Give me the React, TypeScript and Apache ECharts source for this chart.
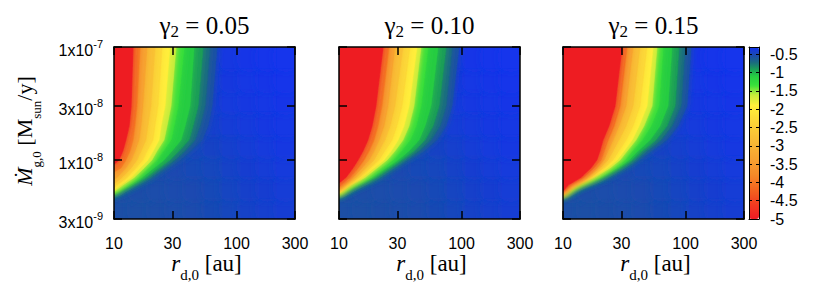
import React, { useEffect, useRef } from 'react';
import * as echarts from 'echarts';

// ---------------- data ----------------
const GAMMA2 = ['0.05', '0.10', '0.15'];
const X_TICKS = [10, 30, 100, 300]; // r_d,0 [au]
const Y_TICKS = [3e-9, 1e-8, 3e-8, 1e-7]; // Mdot_g,0 [Msun/y]
const CB_MIN = -5;
const CB_MAX = -0.3;
const CB_STEP = 0.5;

// contour levels of the plotted quantity (outermost first)
const LEVELS = [-0.5, -0.62, -0.8, -1.0, -1.2, -1.45, -1.75, -2.1, -2.5, -3.0, -3.6, -4.3];
// Mdot rows at which the contour positions r_d,0 were read
const MDOT_ROWS = [1e-7, 3e-8, 2e-8, 1.5e-8, 1.2e-8, 1e-8, 8.5e-9, 7e-9, 6e-9];

// gamma2 = 0.05 : r_d,0 of each contour on each row (null: contour already met r = 10 au)
const RD_G005 = [
  [69.3, 63.1, 58.5, 52.3, 42.5, 34.6, 27.1, 21.2, 16.0],
  [60.7, 55.3, 50.3, 45.8, 38.0, 31.5, 25.1, 19.7, 14.8],
  [53.3, 48.5, 44.1, 40.9, 33.9, 28.6, 23.3, 18.2, 14.0],
  [45.0, 41.7, 38.0, 35.2, 29.7, 25.6, 21.2, 16.9, 13.3],
  [37.3, 33.3, 30.9, 29.2, 25.1, 22.4, 18.9, 15.7, 12.5],
  [32.1, 29.2, 27.1, 25.6, 22.4, 20.4, 17.6, 14.6, 11.8],
  [28.6, 26.1, 24.2, 23.3, 20.8, 18.9, 16.3, 13.8, 11.2],
  [24.7, 22.9, 21.6, 20.8, 18.6, 17.2, 15.1, 12.8, 10.6],
  [21.6, 20.0, 18.9, 18.2, 16.6, 15.4, 13.8, 11.6, null],
  [18.6, 17.2, 16.6, 16.0, 14.8, 13.8, 12.5, 10.6, null],
  [16.3, 15.4, 14.8, 14.3, 13.5, 12.5, 11.4, null, null],
  [14.3, 13.8, 13.3, 12.5, 11.8, 11.0, null, null, null],
];
// Mdot where each contour meets the r = 10 au edge
const EDGE_G005 = [4.82e-9, 4.89e-9, 4.96e-9, 5.04e-9, 5.15e-9, 5.25e-9, 5.42e-9, 5.7e-9, 6.12e-9, 6.78e-9, 7.82e-9, 9.1e-9];

// gamma2 = 0.10
const RD_G010 = [
  [95.3, 83.6, 74.7, 63.1, 49.4, 36.6, 28.6, 22.0, 15.7],
  [83.6, 74.7, 66.7, 56.3, 45.0, 33.9, 27.1, 20.8, 14.8],
  [74.7, 65.5, 58.5, 50.3, 40.9, 32.1, 25.6, 19.7, 14.3],
  [64.3, 56.3, 50.3, 45.0, 37.3, 30.3, 24.2, 18.6, 13.8],
  [53.3, 46.7, 42.5, 38.0, 32.1, 27.6, 22.0, 17.2, 13.1],
  [46.7, 40.9, 37.3, 33.3, 28.6, 24.7, 20.4, 16.3, 12.5],
  [43.3, 37.3, 33.9, 30.3, 26.6, 23.3, 19.3, 15.4, 12.1],
  [38.0, 32.7, 29.7, 27.1, 23.7, 21.2, 17.9, 14.6, 11.6],
  [33.3, 28.6, 26.1, 23.7, 21.2, 19.3, 16.6, 13.8, 11.2],
  [28.6, 25.1, 23.3, 21.2, 19.3, 17.6, 15.4, 13.0, 10.8],
  [25.6, 22.4, 20.8, 19.3, 17.6, 16.0, 14.3, 12.3, 10.4],
  [22.9, 20.0, 18.6, 17.2, 15.7, 14.3, 13.0, 11.4, null],
];
const EDGE_G010 = [4.81e-9, 4.85e-9, 4.89e-9, 4.94e-9, 4.99e-9, 5.04e-9, 5.09e-9, 5.18e-9, 5.28e-9, 5.45e-9, 5.7e-9, 6.25e-9];

// gamma2 = 0.15
const RD_G015 = [
  [110.8, 102.7, 86.8, 70.6, 52.3, 41.7, 32.1, 22.9, 15.4],
  [99.0, 91.8, 77.5, 63.1, 47.6, 38.7, 30.3, 21.6, 14.8],
  [88.4, 82.0, 70.6, 57.4, 44.1, 36.6, 28.6, 20.8, 14.4],
  [77.5, 71.9, 61.9, 51.3, 40.9, 34.6, 27.6, 20.0, 14.0],
  [65.5, 60.7, 52.3, 44.1, 36.6, 32.1, 25.6, 18.9, 13.5],
  [58.5, 53.3, 45.8, 39.4, 33.3, 29.2, 24.2, 17.9, 13.0],
  [54.3, 48.5, 41.7, 36.6, 31.5, 27.6, 22.9, 17.2, 12.6],
  [48.5, 42.5, 37.3, 32.7, 28.6, 25.6, 21.6, 16.6, 12.3],
  [42.5, 37.3, 32.7, 28.6, 25.6, 23.3, 20.0, 15.7, 11.8],
  [37.3, 32.7, 28.6, 25.6, 23.3, 21.6, 18.9, 15.1, 11.5],
  [33.3, 29.2, 26.1, 23.3, 21.6, 20.4, 17.9, 14.6, 11.2],
  [30.3, 26.6, 23.7, 21.2, 20.0, 18.9, 16.9, 14.0, 11.0],
];
const EDGE_G015 = [4.76e-9, 4.8e-9, 4.83e-9, 4.86e-9, 4.89e-9, 4.92e-9, 4.95e-9, 4.99e-9, 5.03e-9, 5.09e-9, 5.17e-9, 5.27e-9];

// background (blue) field, coarse cells: r edges, Mdot edges, values (rows bottom -> top)
const BG_R_EDGES = [10, 14, 20, 28, 39, 55, 77, 108, 152, 213, 300];
const BG_M_EDGES = [3e-9, 4.6e-9, 7.2e-9, 1.1e-8, 1.7e-8, 2.7e-8, 4.2e-8, 6.5e-8, 1e-7];
const BG_VALUES = [
  [-0.56, -0.56, -0.55, -0.54, -0.53, -0.51, -0.48, -0.45, -0.43, -0.41],
  [-0.56, -0.55, -0.54, -0.53, -0.52, -0.5, -0.47, -0.44, -0.42, -0.4],
  [-0.55, -0.54, -0.53, -0.52, -0.5, -0.48, -0.45, -0.42, -0.4, -0.38],
  [-0.55, -0.54, -0.52, -0.5, -0.48, -0.46, -0.43, -0.4, -0.38, -0.36],
  [-0.55, -0.53, -0.51, -0.49, -0.46, -0.43, -0.4, -0.38, -0.36, -0.35],
  [-0.55, -0.53, -0.5, -0.47, -0.44, -0.41, -0.38, -0.36, -0.35, -0.34],
  [-0.55, -0.52, -0.49, -0.46, -0.43, -0.4, -0.37, -0.35, -0.34, -0.33],
  [-0.55, -0.52, -0.49, -0.46, -0.42, -0.39, -0.36, -0.34, -0.33, -0.32],
];

// ---------------- styling ----------------
const SANS = '"Liberation Sans", Arial, Helvetica, sans-serif';
const SERIF = '"Liberation Serif", "Times New Roman", serif';
const PANEL_LEFT = [114, 339, 563];
const PANEL_TOP = 47;
const PANEL_W = 181;
const PANEL_H = 172;

const PALETTE: [number, string][] = [
  [-5.0, '#ee1b24'],
  [-4.6, '#f03c20'],
  [-4.2, '#f3641f'],
  [-3.8, '#f58a28'],
  [-3.4, '#f7a030'],
  [-3.0, '#f8b434'],
  [-2.6, '#fac836'],
  [-2.2, '#fcdf38'],
  [-1.9, '#fff03a'],
  [-1.6, '#c4ec3a'],
  [-1.35, '#38e03a'],
  [-1.1, '#26cc42'],
  [-0.9, '#1a9c58'],
  [-0.72, '#1a6a80'],
  [-0.55, '#1b4ea8'],
  [-0.42, '#173ed0'],
  [-0.3, '#1232f2'],
];

function hexToRgb(h: string) {
  return [parseInt(h.slice(1, 3), 16), parseInt(h.slice(3, 5), 16), parseInt(h.slice(5, 7), 16)];
}
function paletteAt(v: number) {
  if (v <= PALETTE[0][0]) return PALETTE[0][1];
  for (let i = 1; i < PALETTE.length; i++) {
    if (v <= PALETTE[i][0]) {
      const [v0, c0] = PALETTE[i - 1];
      const [v1, c1] = PALETTE[i];
      const t = (v - v0) / (v1 - v0);
      const a = hexToRgb(c0);
      const b = hexToRgb(c1);
      return 'rgb(' + a.map((x, k) => Math.round(x + (b[k] - x) * t)).join(',') + ')';
    }
  }
  return PALETTE[PALETTE.length - 1][1];
}
const CB_COLORS = Array.from({ length: 95 }, (_, k) => paletteAt(CB_MIN + ((CB_MAX - CB_MIN) * k) / 94));

const LX_MIN = Math.log10(X_TICKS[0]);
const LX_MAX = Math.log10(X_TICKS[X_TICKS.length - 1]);
const LY_MIN = Math.log10(Y_TICKS[0]);
const LY_MAX = Math.log10(Y_TICKS[Y_TICKS.length - 1]);

function buildPolys(table: (number | null)[][], edges: number[]) {
  return table.map((row, i) => {
    const pts: number[][] = [];
    const top = Math.log10(row[0] as number);
    pts.push([LX_MIN - 0.3, LY_MAX + 0.3]);
    pts.push([top, LY_MAX + 0.3]);
    row.forEach((r, j) => {
      if (r != null) pts.push([Math.log10(r), Math.log10(MDOT_ROWS[j])]);
    });
    const le = Math.log10(edges[i]);
    pts.push([LX_MIN, le]);
    pts.push([LX_MIN - 0.3, le]);
    return pts;
  });
}
function buildContourData(table: (number | null)[][]) {
  return table.map((row, i) => {
    const fill = i < LEVELS.length - 1 ? (LEVELS[i] + LEVELS[i + 1]) / 2 : CB_MIN;
    const lx = Math.log10(row[0] as number);
    return [lx, LY_MAX, lx, LY_MAX, fill];
  });
}
function buildBgData() {
  const out: number[][] = [];
  BG_VALUES.forEach((row, i) => {
    row.forEach((v, j) => {
      out.push([
        Math.log10(BG_R_EDGES[j]),
        Math.log10(BG_M_EDGES[i]),
        Math.log10(BG_R_EDGES[j + 1]),
        Math.log10(BG_M_EDGES[i + 1]),
        v,
      ]);
    });
  });
  return out;
}

function buildOption() {
  const tables = [RD_G005, RD_G010, RD_G015];
  const edges = [EDGE_G005, EDGE_G010, EDGE_G015];
  const grid: any[] = PANEL_LEFT.map((l) => ({ left: l, top: PANEL_TOP, width: PANEL_W, height: PANEL_H, show: false }));
  grid.push({ left: 749, top: PANEL_TOP, width: 10, height: PANEL_H, show: false });

  const xTicks = X_TICKS.map((v) => Math.log10(v));
  const yTicks = Y_TICKS.map((v) => Math.log10(v));
  const lineStyle = { color: '#000', width: 1.5 };

  const xAxis: any[] = [];
  const yAxis: any[] = [];
  PANEL_LEFT.forEach((_, g) => {
    ['bottom', 'top'].forEach((pos) => {
      xAxis.push({
        type: 'value',
        gridIndex: g,
        position: pos,
        min: LX_MIN,
        max: LX_MAX,
        z: 10,
        axisLine: { show: true, onZero: false, lineStyle },
        axisTick: { show: true, inside: true, length: 8, customValues: xTicks, lineStyle },
        axisLabel: {
          show: pos === 'bottom',
          customValues: xTicks,
          formatter: (v: number) => String(Math.round(Math.pow(10, v))),
          margin: 16,
          fontSize: 16,
          fontFamily: SANS,
          color: '#000',
        },
        splitLine: { show: false },
      });
    });
    ['left', 'right'].forEach((pos) => {
      yAxis.push({
        type: 'value',
        gridIndex: g,
        position: pos,
        min: LY_MIN,
        max: LY_MAX,
        z: 10,
        axisLine: { show: true, onZero: false, lineStyle },
        axisTick: { show: true, inside: true, length: 8, customValues: yTicks, lineStyle },
        axisLabel: {
          show: g === 0 && pos === 'left',
          customValues: yTicks,
          margin: 11,
          formatter: (v: number) => {
            const e = Math.floor(v + 1e-9);
            const m = Math.round(Math.pow(10, v - e));
            return `{a|${m}x10}{b|${e}}`;
          },
          rich: {
            a: { fontSize: 16, fontFamily: SANS, color: '#000', lineHeight: 23, verticalAlign: 'bottom' },
            b: { fontSize: 11, fontFamily: SANS, color: '#000', verticalAlign: 'top', padding: [3, 0, 0, 0] },
          },
        },
        splitLine: { show: false },
      });
    });
  });
  // colour bar frame and scale
  const cbLine = { color: '#000', width: 1 };
  ['bottom', 'top'].forEach((pos) => {
    xAxis.push({
      type: 'value', gridIndex: 3, position: pos, min: 0, max: 1, z: 10,
      axisLine: { show: true, onZero: false, lineStyle: cbLine },
      axisTick: { show: false }, axisLabel: { show: false }, splitLine: { show: false },
    });
  });
  ['right', 'left'].forEach((pos) => {
    yAxis.push({
      type: 'value', gridIndex: 3, position: pos, min: CB_MIN, max: CB_MAX, interval: CB_STEP, z: 10,
      axisLine: { show: true, onZero: false, lineStyle: cbLine },
      axisTick: { show: true, inside: true, length: 3, lineStyle: cbLine },
      axisLabel: {
        show: pos === 'right',
        margin: 11,
        fontSize: 16,
        fontFamily: SANS,
        color: '#000',
        formatter: (v: number) => {
          const k = Math.round(v / CB_STEP);
          if (Math.abs(v / CB_STEP - k) > 1e-6) return '';
          return String(k * CB_STEP);
        },
      },
      splitLine: { show: false },
    });
  });

  const bgData = buildBgData();
  const series: any[] = [];
  PANEL_LEFT.forEach((_, g) => {
    series.push({
      type: 'custom',
      xAxisIndex: 2 * g,
      yAxisIndex: 2 * g,
      clip: true,
      silent: true,
      encode: { x: [0, 2], y: [1, 3] },
      data: bgData,
      renderItem: (params: any, api: any) => {
        const p0 = api.coord([api.value(0), api.value(1)]);
        const p1 = api.coord([api.value(2), api.value(3)]);
        const c = api.visual('color');
        return {
          type: 'rect',
          shape: { x: p0[0] - 0.4, y: p1[1] - 0.4, width: p1[0] - p0[0] + 0.8, height: p0[1] - p1[1] + 0.8 },
          style: { fill: c, shadowBlur: 10, shadowColor: c },
        };
      },
    });
    const polys = buildPolys(tables[g], edges[g]);
    series.push({
      type: 'custom',
      xAxisIndex: 2 * g,
      yAxisIndex: 2 * g,
      clip: true,
      silent: true,
      encode: { x: [0, 2], y: [1, 3] },
      data: buildContourData(tables[g]),
      renderItem: (params: any, api: any) => {
        const pts = polys[params.dataIndex].map((p) => api.coord(p));
        const c = api.visual('color');
        return {
          type: 'polygon',
          shape: { points: pts },
          style: { fill: c, stroke: c, lineWidth: 0.5, shadowBlur: 7, shadowColor: c },
        };
      },
    });
  });

  const graphic: any[] = [];
  PANEL_LEFT.forEach((l, g) => {
    const cx = l + PANEL_W / 2;
    graphic.push({
      type: 'text',
      x: cx,
      y: 13,
      style: {
        text: `{m|γ}{s|2}{m| = ${GAMMA2[g]}}`,
        align: 'center',
        verticalAlign: 'top',
        rich: {
          m: { fontSize: 25, fontFamily: SERIF, fill: '#000', lineHeight: 26.5, verticalAlign: 'top' },
          s: { fontSize: 17, fontFamily: SERIF, fill: '#000', verticalAlign: 'bottom' },
        },
      },
    });
    graphic.push({
      type: 'text',
      x: cx + 2,
      y: 252,
      style: {
        text: '{i|r}{s|d,0}{m| [au]}',
        align: 'center',
        verticalAlign: 'top',
        rich: {
          i: { fontSize: 23, fontFamily: SERIF, fontStyle: 'italic', fill: '#000', lineHeight: 30, verticalAlign: 'top' },
          m: { fontSize: 23, fontFamily: SERIF, fill: '#000', lineHeight: 30, verticalAlign: 'top' },
          s: { fontSize: 15, fontFamily: SERIF, fill: '#000', verticalAlign: 'bottom' },
        },
      },
    });
  });
  graphic.push({
    type: 'text',
    x: 28,
    y: 131,
    rotation: Math.PI / 2,
    style: {
      text: '{i|Ṁ}{s|g,0}{m| [M}{s|sun}{m|/y]}',
      align: 'center',
      verticalAlign: 'middle',
      rich: {
        i: { fontSize: 22, fontFamily: SERIF, fontStyle: 'italic', fill: '#000', lineHeight: 29, verticalAlign: 'top' },
        m: { fontSize: 22, fontFamily: SERIF, fill: '#000', lineHeight: 29, verticalAlign: 'top' },
        s: { fontSize: 13, fontFamily: SERIF, fill: '#000', verticalAlign: 'bottom' },
      },
    },
  });

  return {
    animation: false,
    backgroundColor: '#fff',
    textStyle: { fontFamily: SANS },
    grid,
    xAxis,
    yAxis,
    visualMap: {
      type: 'continuous',
      min: CB_MIN,
      max: CB_MAX,
      dimension: 4,
      seriesIndex: series.map((_, i) => i),
      calculable: false,
      show: true,
      left: 749,
      top: PANEL_TOP,
      itemWidth: 10,
      itemHeight: PANEL_H,
      padding: 0,
      inRange: { color: CB_COLORS },
    },
    series,
    graphic,
  };
}

export default function App() {
  const ref = useRef<HTMLDivElement>(null);
  useEffect(() => {
    if (!ref.current) return;
    const chart = echarts.init(ref.current, undefined, { renderer: 'svg' });
    chart.setOption(buildOption() as any);
    return () => chart.dispose();
  }, []);
  return (
    <div
      ref={ref}
      style={{ position: 'fixed', left: 0, top: 0, width: 817, height: 307, background: '#fff' }}
    />
  );
}
